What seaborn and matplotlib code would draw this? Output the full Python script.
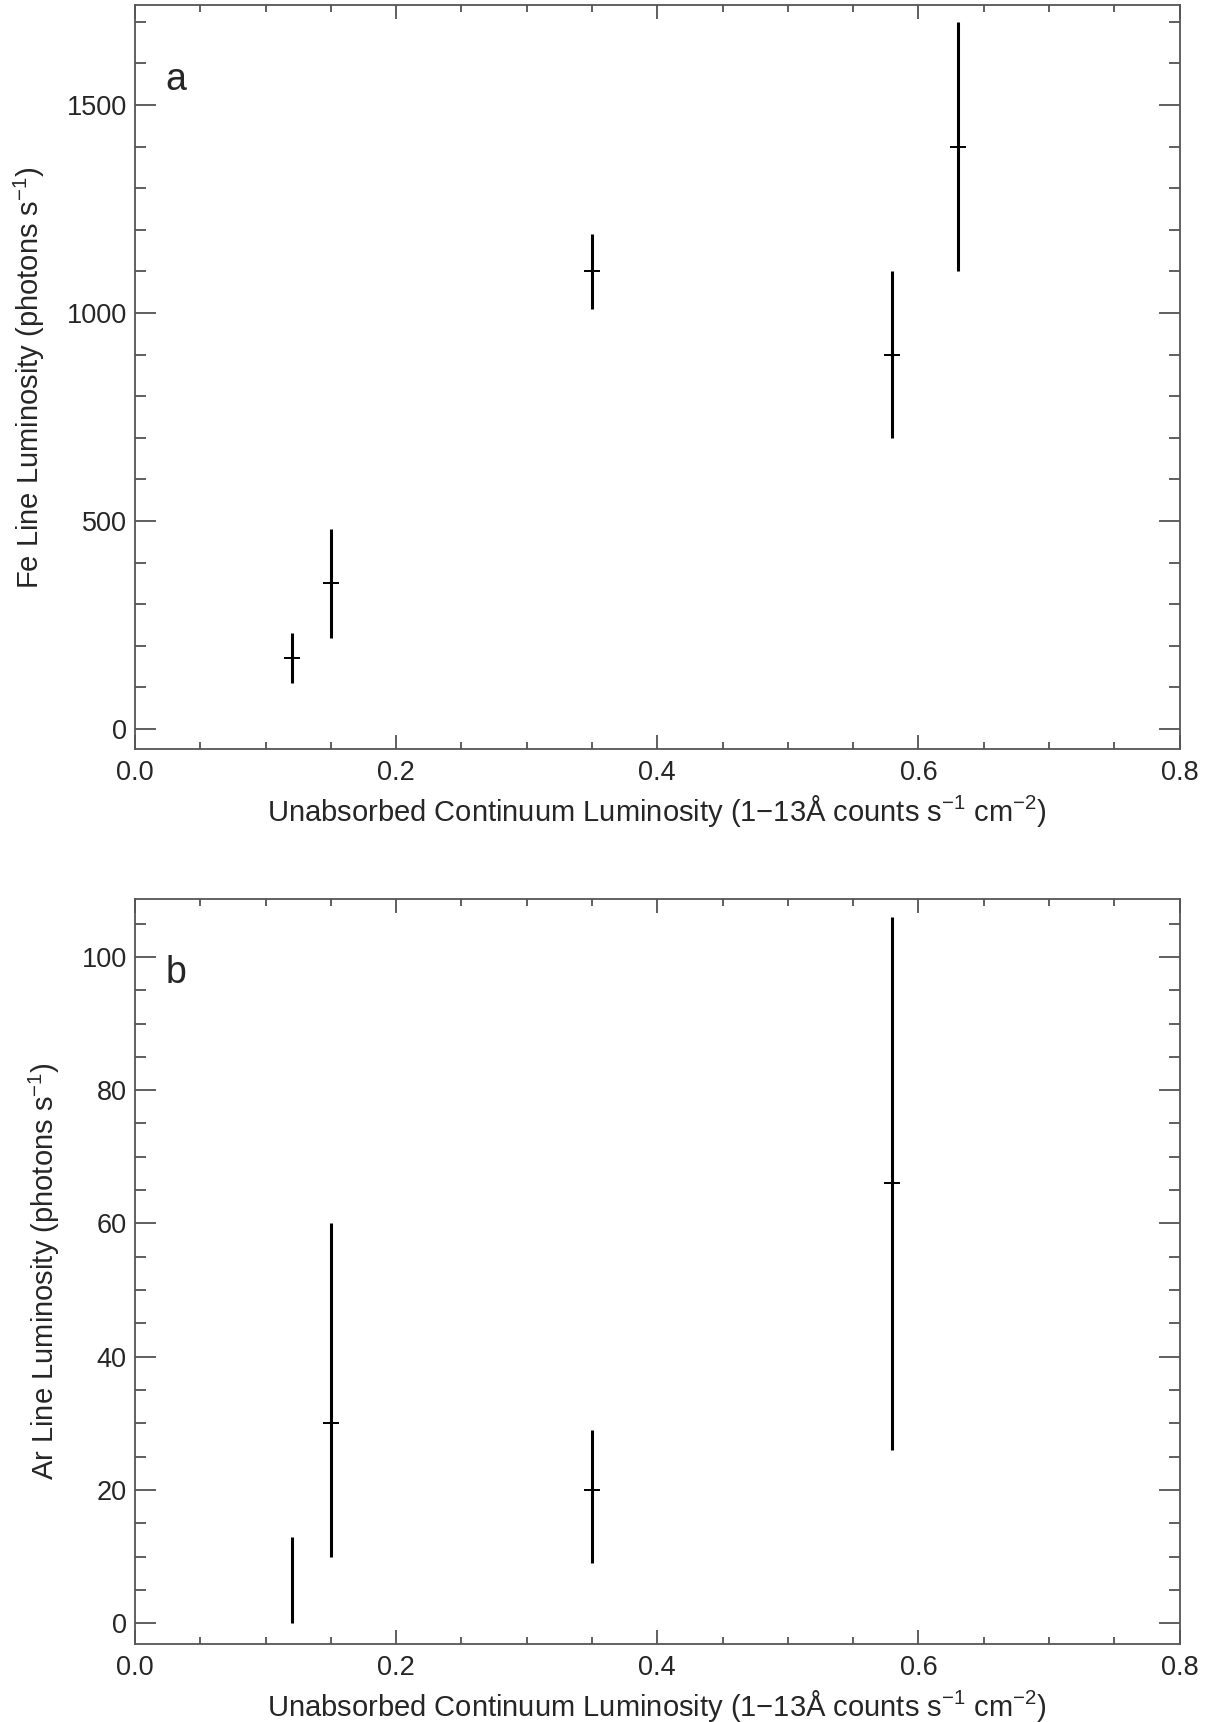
import numpy as np
import pandas as pd
import matplotlib
matplotlib.use("Agg")
import matplotlib.pyplot as plt
import seaborn as sns
from matplotlib.ticker import MultipleLocator

# ---- data ----
fe_x = [0.12, 0.15, 0.35, 0.58, 0.63]
fe_y = [170, 350, 1100, 900, 1400]
fe_lo = [110, 220, 1010, 700, 1100]
fe_hi = [230, 480, 1190, 1100, 1700]

ar_x = [0.12, 0.15, 0.35, 0.58]
ar_y = [np.nan, 30, 20, 66]
ar_lo = [0, 10, 9, 26]
ar_hi = [13, 60, 29, 106]

xlabel = "Unabsorbed Continuum Luminosity (1$-$13Å counts s$^{-1}$ cm$^{-2}$)"
fe_ylabel = "Fe Line Luminosity (photons s$^{-1}$)"
ar_ylabel = "Ar Line Luminosity (photons s$^{-1}$)"

sns.set_theme(style="ticks")
plt.rcParams['font.family'] = ['Liberation Sans', 'DejaVu Sans']
plt.rcParams['mathtext.fontset'] = 'custom'
plt.rcParams['mathtext.rm'] = 'Liberation Sans'
plt.rcParams['mathtext.it'] = 'Liberation Sans:italic'
plt.rcParams['mathtext.default'] = 'regular'

fig = plt.figure(figsize=(12.16, 17.22), dpi=100)
axa = fig.add_axes([0.111, 0.565, 0.859, 0.432])
axb = fig.add_axes([0.111, 0.0453, 0.859, 0.4327])

def panel(ax, x, y, lo, hi, ylim, major, minor, ylabel, letter):
    df = pd.DataFrame({"x": x, "y": y, "lo": lo, "hi": hi})
    ax.vlines(df["x"], df["lo"], df["hi"], color="black", linewidth=2.2)
    sns.scatterplot(data=df.dropna(), x="x", y="y", ax=ax, marker="_", s=130,
                    color="black", linewidth=1.4, legend=False, zorder=3)
    ax.set_xlim(0, 0.8)
    ax.set_ylim(*ylim)
    ax.xaxis.set_major_locator(MultipleLocator(0.2))
    ax.xaxis.set_minor_locator(MultipleLocator(0.05))
    ax.yaxis.set_major_locator(MultipleLocator(major))
    ax.yaxis.set_minor_locator(MultipleLocator(minor))
    ax.xaxis.set_major_formatter(matplotlib.ticker.FormatStrFormatter("%.1f"))
    ax.tick_params(axis="both", which="both", direction="in", top=True, right=True,
                   labelsize=19.5, color="#444444", width=1.2)
    ax.tick_params(axis="x", which="major", length=10, pad=8)
    ax.tick_params(axis="x", which="minor", length=5)
    ax.tick_params(axis="y", which="major", length=15, pad=6)
    ax.tick_params(axis="y", which="minor", length=8)
    for s in ax.spines.values():
        s.set_color("#555555")
        s.set_linewidth(1.3)
    ax.set_xlabel(xlabel, fontsize=21, labelpad=5)
    ax.set_ylabel(ylabel, fontsize=21, labelpad=14)
    ax.text(0.029, 0.9, letter, transform=ax.transAxes, fontsize=27,
            ha="left", va="center")

panel(axa, fe_x, fe_y, fe_lo, fe_hi, (-48, 1740), 500, 100, fe_ylabel, "a")
panel(axb, ar_x, ar_y, ar_lo, ar_hi, (-3.1, 108.7), 20, 5, ar_ylabel, "b")

fig.savefig("out.png", dpi=100)
